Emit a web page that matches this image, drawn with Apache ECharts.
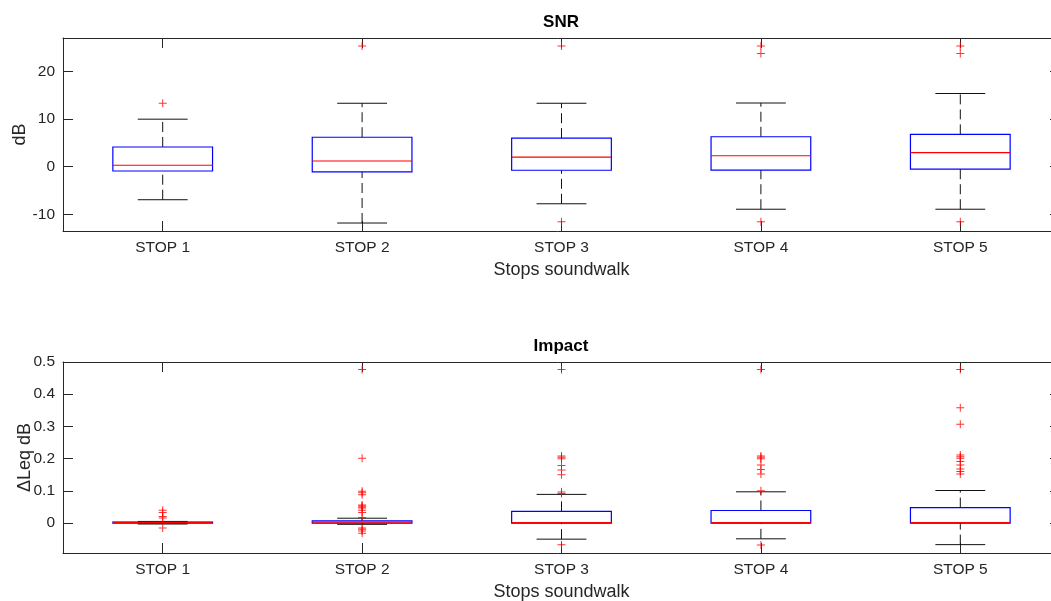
<!DOCTYPE html>
<html>
<head>
<meta charset="utf-8">
<script src="https://cdn.jsdelivr.net/npm/echarts@6.0.0/dist/echarts.min.js"></script>
<style>
  html, body { margin: 0; padding: 0; background: #fff; }
  #chart { width: 1051px; height: 601px; }
</style>
</head>
<body>
<div id="chart"></div>
<script>
const stops = ['STOP 1', 'STOP 2', 'STOP 3', 'STOP 4', 'STOP 5'];

// SNR (dB) box stats per stop
const snrLow = [-6.95, -11.85, -7.8, -8.95, -8.95];
const snrQ1 = [-0.9, -1.1, -0.75, -0.7, -0.5];
const snrMed = [0.3, 1.2, 2.0, 2.3, 2.95];
const snrQ3 = [4.15, 6.2, 6.0, 6.3, 6.8];
const snrHigh = [10.0, 13.35, 13.35, 13.4, 15.4];
const snrOutliers = [
    [13.35],
    [25.4],
    [25.4, -11.6],
    [25.4, 23.8, -11.6],
    [25.4, 23.8, -11.6]
];
const snrTicks = [-10, 0, 10, 20];

// Impact (delta Leq dB) box stats per stop
const impLow = [-0.003, -0.004, -0.05, -0.049, -0.067];
const impQ1 = [0, 0, 0, 0, 0];
const impMed = [0.002, 0.003, 0.001, 0.001, 0.001];
const impQ3 = [0.003, 0.007, 0.036, 0.039, 0.048];
const impHigh = [0.005, 0.015, 0.089, 0.097, 0.101];
const impOutliers = [
    [0.04, 0.033, 0.02, 0.016, -0.015],
    [0.477, 0.201, 0.099, 0.094, 0.088, 0.056, 0.053, 0.05, 0.047, 0.04, 0.033, 0.017, -0.015, -0.019, -0.025, -0.032],
    [0.477, 0.208, 0.204, 0.2, 0.179, 0.165, 0.15, 0.096, 0.092, -0.067],
    [0.477, 0.208, 0.204, 0.2, 0.18, 0.166, 0.152, 0.1, -0.068],
    [0.477, 0.358, 0.307, 0.211, 0.206, 0.201, 0.191, 0.18, 0.168, 0.16, 0.152]
];
const impTicks = [0, 0.1, 0.2, 0.3, 0.4, 0.5];

const font = '"Liberation Sans", Arial, Helvetica, sans-serif';
const axisColor = '#262626';
const plus = 'path://M3.5,0H4.5V3.5H8V4.5H4.5V8H3.5V4.5H0V3.5H3.5Z';

function boxRows(low, q1, med, q3, high) {
    return stops.map((s, i) => [i, low[i], q1[i], med[i], q3[i], high[i]]);
}

function outlierRows(list) {
    const rows = [];
    list.forEach((vals, i) => vals.forEach(v => rows.push([i, v])));
    return rows;
}

function renderBox(params, api) {
    const i = api.value(0);
    const band = api.size([1, 0])[0];
    const boxHalf = band / 4;
    const capHalf = band / 8;
    const pLow = api.coord([i, api.value(1)]);
    const pQ1 = api.coord([i, api.value(2)]);
    const pMed = api.coord([i, api.value(3)]);
    const pQ3 = api.coord([i, api.value(4)]);
    const pHigh = api.coord([i, api.value(5)]);
    const cx = pLow[0];
    const whisker = { stroke: '#111', lineWidth: 1, lineDash: [10, 5] };
    const cap = { stroke: '#111', lineWidth: 1 };
    return {
        type: 'group',
        children: [
            { type: 'line', shape: { x1: cx, y1: pLow[1], x2: cx, y2: pQ1[1] }, style: whisker },
            { type: 'line', shape: { x1: cx, y1: pQ3[1], x2: cx, y2: pHigh[1] }, style: whisker },
            { type: 'line', shape: { x1: cx - capHalf, y1: pLow[1], x2: cx + capHalf, y2: pLow[1] }, style: cap },
            { type: 'line', shape: { x1: cx - capHalf, y1: pHigh[1], x2: cx + capHalf, y2: pHigh[1] }, style: cap },
            {
                type: 'rect',
                shape: { x: cx - boxHalf, y: pQ3[1], width: boxHalf * 2, height: pQ1[1] - pQ3[1] },
                style: { fill: 'none', stroke: '#0000ff', lineWidth: 1.2 }
            },
            { type: 'line', shape: { x1: cx - boxHalf, y1: pMed[1], x2: cx + boxHalf, y2: pMed[1] }, style: { stroke: '#ff0000', lineWidth: 1.2 } }
        ]
    };
}

function xAxes(gridIndex) {
    const line = { show: true, onZero: false, lineStyle: { color: axisColor, width: 1 } };
    const tick = { show: true, inside: true, length: 10, alignWithLabel: true, lineStyle: { color: axisColor, width: 1 } };
    return [
        {
            type: 'category', gridIndex, data: stops, position: 'bottom',
            axisLine: line, axisTick: tick,
            axisLabel: { color: axisColor, fontSize: 15.5, fontFamily: font, margin: 9 },
            name: 'Stops soundwalk', nameLocation: 'middle', nameGap: 30, nameMoveOverlap: false,
            nameTextStyle: { color: axisColor, fontSize: 18, fontFamily: font }
        },
        {
            type: 'category', gridIndex, data: stops, position: 'top',
            axisLine: line, axisTick: tick, axisLabel: { show: false }
        }
    ];
}

function yAxes(gridIndex, min, max, ticks, name, nameGap) {
    const line = { show: true, onZero: false, lineStyle: { color: axisColor, width: 1 } };
    const tick = { show: true, inside: true, length: 10, customValues: ticks, lineStyle: { color: axisColor } };
    return [
        {
            type: 'value', gridIndex, min, max, position: 'left',
            axisLine: line, axisTick: tick, splitLine: { show: false },
            axisLabel: {
                customValues: ticks, color: axisColor, fontSize: 15.5, fontFamily: font, margin: 8,
                formatter: v => String(v)
            },
            name, nameLocation: 'middle', nameGap, nameMoveOverlap: false,
            nameTextStyle: { color: axisColor, fontSize: 18, fontFamily: font }
        },
        {
            type: 'value', gridIndex, min, max, position: 'right',
            axisLine: line, axisTick: tick, splitLine: { show: false },
            axisLabel: { show: false }
        }
    ];
}

const chart = echarts.init(document.getElementById('chart'), null, { renderer: 'canvas' });

chart.setOption({
    animation: false,
    backgroundColor: '#fff',
    title: [
        { text: 'SNR', left: 561, top: 14, textAlign: 'center', padding: 0,
          textStyle: { fontSize: 17, fontWeight: 'bold', color: '#000', fontFamily: font } },
        { text: 'Impact', left: 561, top: 338, textAlign: 'center', padding: 0,
          textStyle: { fontSize: 17, fontWeight: 'bold', color: '#000', fontFamily: font } }
    ],
    grid: [
        { left: 63, top: 38, width: 997, height: 193, outerBoundsMode: 'none' },
        { left: 63, top: 362, width: 997, height: 191, outerBoundsMode: 'none' }
    ],
    xAxis: [...xAxes(0), ...xAxes(1)],
    yAxis: [
        ...yAxes(0, -13.53, 27.08, snrTicks, 'dB', 34),
        ...yAxes(1, -0.093, 0.5, impTicks, '\u0394Leq dB', 29)
    ],
    series: [
        {
            type: 'custom', xAxisIndex: 0, yAxisIndex: 0,
            renderItem: renderBox, encode: { x: 0, y: [1, 2, 3, 4, 5] },
            data: boxRows(snrLow, snrQ1, snrMed, snrQ3, snrHigh)
        },
        {
            type: 'scatter', xAxisIndex: 0, yAxisIndex: 0, symbol: plus, symbolSize: 8,
            itemStyle: { color: '#ff0000' }, z: 5, data: outlierRows(snrOutliers)
        },
        {
            type: 'custom', xAxisIndex: 2, yAxisIndex: 2,
            renderItem: renderBox, encode: { x: 0, y: [1, 2, 3, 4, 5] },
            data: boxRows(impLow, impQ1, impMed, impQ3, impHigh)
        },
        {
            type: 'scatter', xAxisIndex: 2, yAxisIndex: 2, symbol: plus, symbolSize: 8,
            itemStyle: { color: '#ff0000' }, z: 5, data: outlierRows(impOutliers)
        }
    ]
});
</script>
</body>
</html>
